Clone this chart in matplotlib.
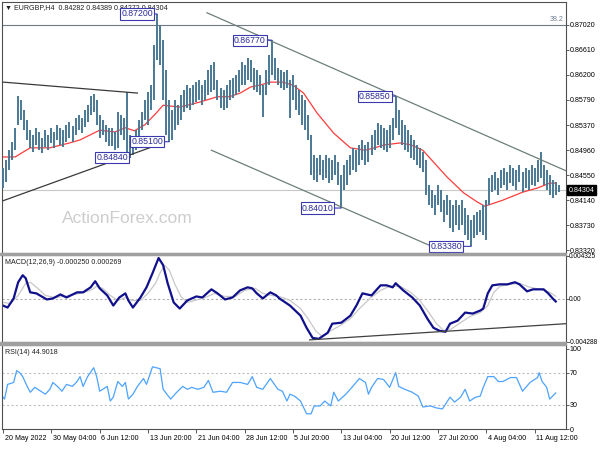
import numpy as np
import matplotlib.pyplot as plt
from matplotlib import transforms
from matplotlib.patches import Rectangle

plt.rcParams['font.family'] = ['Liberation Sans', 'DejaVu Sans']

# EURGBP H4 bars, sampled every second bar (bar number = 2 * i)
highs = [0.8467, 0.8480, 0.8496, 0.8510, 0.8533, 0.8585, 0.8579, 0.8562, 0.8546, 0.8529,
         0.8521, 0.8533, 0.8526, 0.8516, 0.8529, 0.8521, 0.8533, 0.8526, 0.8538, 0.8533,
         0.8529, 0.8538, 0.8542, 0.8536, 0.8549, 0.8554, 0.8549, 0.8562, 0.8570, 0.8585,
         0.8589, 0.8579, 0.8554, 0.8546, 0.8538, 0.8533, 0.8533, 0.8526, 0.8559, 0.8554,
         0.8549, 0.8592, 0.8521, 0.8513, 0.8529, 0.8546, 0.8559, 0.8579, 0.8592, 0.8603,
         0.8669, 0.8720, 0.8702, 0.8677, 0.8628, 0.8579, 0.8562, 0.8579, 0.8570, 0.8587,
         0.8595, 0.8603, 0.8598, 0.8603, 0.8608, 0.8612, 0.8603, 0.8612, 0.8628, 0.8636,
         0.8641, 0.8612, 0.8598, 0.8595, 0.8603, 0.8612, 0.8615, 0.8620, 0.8628, 0.8641,
         0.8636, 0.8648, 0.8644, 0.8631, 0.8628, 0.8620, 0.8603, 0.8628, 0.8653, 0.8677,
         0.8648, 0.8631, 0.8628, 0.8625, 0.8628, 0.8612, 0.8620, 0.8603, 0.8595, 0.8587,
         0.8579, 0.8554, 0.8521, 0.8488, 0.8483, 0.8488, 0.8480, 0.8488, 0.8483, 0.8480,
         0.8488, 0.8477, 0.8455, 0.8472, 0.8480, 0.8488, 0.8500, 0.8496, 0.8505, 0.8513,
         0.8505, 0.8510, 0.8521, 0.8529, 0.8541, 0.8538, 0.8533, 0.8529, 0.8538, 0.8549,
         0.8585, 0.8562, 0.8546, 0.8538, 0.8529, 0.8521, 0.8513, 0.8505, 0.8500, 0.8493,
         0.8480, 0.8439, 0.8431, 0.8422, 0.8439, 0.8431, 0.8414, 0.8422, 0.8414, 0.8406,
         0.8414, 0.8406, 0.8414, 0.8401, 0.8390, 0.8381, 0.8390, 0.8395, 0.8398, 0.8406,
         0.8414, 0.8450, 0.8455, 0.8460, 0.8450, 0.8464, 0.8467, 0.8460, 0.8472, 0.8467,
         0.8464, 0.8472, 0.8460, 0.8467, 0.8464, 0.8472, 0.8467, 0.8480, 0.8493, 0.8472,
         0.8464, 0.8455, 0.8447, 0.8444, 0.8439]
lows = [0.8434, 0.8444, 0.8464, 0.8480, 0.8496, 0.8538, 0.8546, 0.8529, 0.8513, 0.8500,
        0.8493, 0.8505, 0.8496, 0.8492, 0.8501, 0.8496, 0.8508, 0.8500, 0.8513, 0.8505,
        0.8501, 0.8510, 0.8516, 0.8510, 0.8521, 0.8529, 0.8524, 0.8534, 0.8542, 0.8554,
        0.8559, 0.8538, 0.8516, 0.8521, 0.8510, 0.8503, 0.8503, 0.8496, 0.8500, 0.8521,
        0.8513, 0.8487, 0.8484, 0.8488, 0.8496, 0.8510, 0.8529, 0.8546, 0.8538, 0.8562,
        0.8579, 0.8644, 0.8636, 0.8579, 0.8521, 0.8510, 0.8513, 0.8529, 0.8538, 0.8546,
        0.8559, 0.8565, 0.8562, 0.8570, 0.8575, 0.8579, 0.8570, 0.8579, 0.8587, 0.8592,
        0.8595, 0.8579, 0.8565, 0.8562, 0.8565, 0.8579, 0.8582, 0.8587, 0.8592, 0.8603,
        0.8603, 0.8612, 0.8608, 0.8595, 0.8592, 0.8587, 0.8551, 0.8587, 0.8603, 0.8620,
        0.8612, 0.8603, 0.8598, 0.8595, 0.8598, 0.8549, 0.8579, 0.8562, 0.8554, 0.8538,
        0.8529, 0.8513, 0.8455, 0.8447, 0.8444, 0.8455, 0.8447, 0.8450, 0.8442, 0.8447,
        0.8455, 0.8439, 0.8401, 0.8431, 0.8439, 0.8455, 0.8464, 0.8460, 0.8472, 0.8480,
        0.8472, 0.8477, 0.8488, 0.8496, 0.8505, 0.8500, 0.8496, 0.8493, 0.8500, 0.8513,
        0.8533, 0.8521, 0.8505, 0.8496, 0.8493, 0.8483, 0.8480, 0.8472, 0.8467, 0.8460,
        0.8422, 0.8406, 0.8401, 0.8390, 0.8406, 0.8395, 0.8378, 0.8390, 0.8368, 0.8362,
        0.8373, 0.8365, 0.8373, 0.8357, 0.8348, 0.8338, 0.8352, 0.8357, 0.8362, 0.8357,
        0.8348, 0.8406, 0.8427, 0.8431, 0.8422, 0.8434, 0.8439, 0.8431, 0.8442, 0.8437,
        0.8431, 0.8444, 0.8427, 0.8434, 0.8431, 0.8439, 0.8437, 0.8444, 0.8450, 0.8439,
        0.8431, 0.8422, 0.8418, 0.8422, 0.8427]
bar_no = np.arange(len(highs)) * 2
last_price = 0.84304

ma_bar = [0, 8, 18, 31, 44, 51, 64, 74, 81, 87, 94, 101, 106, 117, 130, 142, 150, 157, 164, 170,
          177, 185, 192, 199, 208, 219, 230, 240, 253, 263, 270, 278, 294, 305, 314, 319, 331,
          344, 354, 362, 366]
ma_val = [0.8485, 0.8485, 0.8500, 0.8500, 0.8508, 0.8513, 0.8529, 0.8526, 0.8533, 0.8528,
          0.8538, 0.8556, 0.8570, 0.8567, 0.8575, 0.8584, 0.8584, 0.8590, 0.8600, 0.8603,
          0.8608, 0.8608, 0.8603, 0.8590, 0.8557, 0.8524, 0.8500, 0.8496, 0.8505, 0.8508,
          0.8505, 0.8496, 0.8452, 0.8426, 0.8411, 0.8404, 0.8414, 0.8427, 0.8434, 0.8442,
          0.8442]

# swing labels
swing_bar = [102, 178, 84, 110, 260, 224, 310]
swing_price = [0.87200, 0.86770, 0.84840, 0.85100, 0.85850, 0.84010, 0.83380]

# drawn trendlines (bar, price) end points
tl_bars = [(0, 89), (0, 97), (135, 373), (138, 283)]
tl_prices = [(0.8608, 0.8590), (0.8413, 0.8500), (0.8722, 0.8462), (0.8496, 0.8339)]
fibo_382 = 0.8702

price_ticks = [0.87020, 0.86610, 0.86200, 0.85790, 0.85370, 0.84960, 0.84550, 0.84140,
               0.83730, 0.83320]

macd_bar = [0, 3, 7, 10, 13, 15, 18, 22, 29, 33, 38, 42, 49, 53, 58, 61, 64, 69, 73, 77, 81,
            83, 86, 91, 95, 99, 103, 106, 109, 113, 117, 122, 128, 132, 138, 142, 147, 152,
            157, 162, 165, 168, 172, 177, 181, 183, 190, 197, 201, 205, 209, 215, 218, 224,
            230, 234, 238, 244, 250, 254, 258, 260, 265, 271, 276, 281, 285, 289, 293, 296,
            301, 306, 311, 316, 318, 321, 324, 329, 334, 339, 342, 347, 351, 358, 361, 364, 366]
macd_val = [-0.00066, -0.00086, 0.00005, 0.00167, 0.00237, 0.00207, 0.00066, 0.00056,
            -0.00005, 0.00005, 0.00045, 0.00015, 0.00066, 0.00066, 0.00116, 0.00177, 0.00106,
            0.00035, -0.00066, 0.00015, 0.00056, -0.00015, -0.00086, 0.00015, 0.00116,
            0.00258, 0.00409, 0.00338, 0.00157, -0.00035, -0.00096, -0.00015, 0.00025,
            0.00015, 0.00096, 0.00056, -0.00005, 0.00015, 0.00086, 0.00116, 0.00106, 0.00056,
            0.00005, 0.00066, 0.00035, 0.00005, -0.00066, -0.00167, -0.00288, -0.00389,
            -0.00399, -0.00338, -0.00247, -0.00237, -0.00167, -0.00066, 0.00056, 0.00035,
            0.00136, 0.00136, 0.00116, 0.00157, 0.00086, 0.00015, -0.00066, -0.00197,
            -0.00288, -0.00318, -0.00328, -0.00247, -0.00217, -0.00136, -0.00146, -0.00116,
            -0.00096, 0.00056, 0.00136, 0.00146, 0.00146, 0.00167, 0.00146, 0.00076, 0.00096,
            0.00096, 0.00056, 0.00005, -0.00025]
signal_bar = [0, 5, 10, 15, 18, 23, 28, 34, 41, 51, 58, 62, 66, 71, 76, 81, 85, 91, 96, 101,
              104, 107, 110, 114, 118, 122, 127, 134, 140, 147, 154, 160, 167, 172, 178, 185,
              190, 197, 202, 207, 211, 217, 223, 230, 236, 243, 250, 256, 263, 270, 276, 282,
              287, 292, 297, 303, 309, 316, 321, 325, 329, 336, 342, 349, 356, 362, 366]
signal_val = [-0.00035, -0.00045, 0.00035, 0.00157, 0.00167, 0.00106, 0.00035, 0.00015,
              0.00025, 0.00056, 0.00086, 0.00126, 0.00106, 0.00035, -0.00015, 0.00015,
              -0.00015, -0.00015, 0.00056, 0.00157, 0.00260, 0.00335, 0.00290, 0.00140,
              0.00020, -0.00035, -0.00015, 0.00015, 0.00056, 0.00025, 0.00025, 0.00086,
              0.00106, 0.00056, 0.00035, 0.00015, -0.00015, -0.00096, -0.00197, -0.00318,
              -0.00369, -0.00318, -0.00268, -0.00197, -0.00096, 0.00005, 0.00086, 0.00126,
              0.00126, 0.00066, -0.00015, -0.00136, -0.00247, -0.00318, -0.00298, -0.00237,
              -0.00177, -0.00136, -0.00066, 0.00066, 0.00126, 0.00146, 0.00157, 0.00116,
              0.00096, 0.00066, 0.00027]
macd_tl_bar = (203, 373)
macd_tl_val = (-0.00409, -0.00247)

rsi_bar = [0, 1, 3, 7, 9, 11, 13, 16, 18, 21, 25, 28, 31, 33, 36, 39, 42, 46, 49, 51, 53, 56,
           60, 62, 64, 69, 71, 73, 76, 79, 81, 83, 86, 89, 93, 95, 99, 104, 106, 111, 115, 119,
           122, 125, 129, 133, 136, 139, 144, 148, 152, 157, 162, 165, 168, 172, 177, 182, 185,
           188, 190, 193, 197, 201, 204, 206, 210, 213, 217, 219, 222, 227, 231, 236, 240, 242,
           244, 248, 252, 256, 260, 262, 266, 271, 275, 278, 283, 287, 291, 296, 299, 303, 306,
           309, 313, 316, 318, 321, 325, 328, 331, 336, 340, 344, 349, 354, 355, 357, 360, 362,
           366]
rsi_val = [39.6, 37.2, 55.5, 57.9, 72.6, 70.1, 65.2, 53.0, 45.7, 51.8, 47.0, 43.3, 49.4, 57.9,
           53.0, 47.0, 55.5, 53.0, 59.1, 65.2, 53.0, 65.2, 76.2, 65.2, 47.0, 53.0, 34.8, 39.6,
           59.1, 53.0, 57.9, 37.2, 43.3, 53.0, 62.8, 55.5, 77.4, 75.0, 49.4, 37.2, 45.7, 53.0,
           49.4, 51.8, 49.4, 51.8, 60.4, 45.7, 47.0, 45.7, 57.9, 57.9, 55.5, 65.2, 51.8, 49.4,
           62.8, 49.4, 47.0, 34.8, 43.3, 40.9, 34.8, 18.9, 18.9, 28.7, 28.7, 34.8, 28.7, 45.7,
           34.8, 43.3, 51.8, 62.8, 57.9, 43.3, 51.8, 62.8, 61.6, 51.8, 70.1, 53.0, 49.4, 45.7,
           40.9, 27.4, 28.7, 26.2, 25.0, 39.6, 33.5, 39.6, 49.4, 34.8, 39.6, 40.9, 51.8, 65.2,
           65.2, 59.1, 59.1, 64.0, 64.0, 47.0, 57.9, 64.0, 70.1, 59.1, 51.8, 37.2, 44.9]

time_ticks = [0, 32, 64, 96, 128, 160, 192, 224, 256, 288, 320, 352]
time_labels = ['20 May 2022', '30 May 04:00', '6 Jun 12:00', '13 Jun 20:00', '21 Jun 04:00',
               '28 Jun 12:00', '5 Jul 20:00', '13 Jul 04:00', '20 Jul 12:00', '27 Jul 20:00',
               '4 Aug 04:00', '11 Aug 12:00']

W, H = 600, 450
fig = plt.figure(figsize=(6, 4.5), dpi=100)
fig.patch.set_facecolor('white')


def panel(top, bottom, left=2, right=566):
    return fig.add_axes([left / W, 1 - bottom / H, (right - left) / W, (bottom - top) / H])


ax = panel(2, 253)
ax_m = panel(255, 342)
ax_r = panel(345, 429)
for y0, y1 in [(253, 255), (342, 345)]:
    fig.patches.append(Rectangle((0, 1 - y1 / H), 566 / W, (y1 - y0) / H,
                                 transform=fig.transFigure, color='#a0a0a0', zorder=0))

xlim = (-0.7, 372.8)
fs = 5.1
for a in (ax, ax_m, ax_r):
    a.set_xlim(*xlim)
    a.yaxis.tick_right()
    a.tick_params(axis='y', length=1.8, width=0.6, colors='#404040', labelsize=fs, pad=0.8,
                  labelcolor='black')
    a.tick_params(axis='x', bottom=False, labelbottom=False)
    for s in a.spines.values():
        s.set_color('#505050')
        s.set_linewidth(0.8)

# ---- price panel
bar_col = '#4a7893'
ax.set_ylim(0.83271, 0.87397)
ax.axhline(last_price, color='#c8c8c8', lw=0.8, zorder=1)
ax.axhline(fibo_382, color='#707a85', lw=0.8, zorder=1)
ax.text(371.5, fibo_382 + 0.0003, '38.2', fontsize=fs, color='#708090', ha='right',
        va='bottom')
ax.plot(ma_bar, ma_val, color='#ff3c3c', lw=0.9, zorder=2)
ax.vlines(bar_no, lows, highs, color=bar_col, lw=1.4, zorder=3)
tl_cols = ['#3a3a3a', '#3a3a3a', '#6c7f78', '#6c7f78']
for (b0, b1), (p0, p1), c in zip(tl_bars, tl_prices, tl_cols):
    ax.plot([b0, b1], [p0, p1], color=c, lw=0.9, zorder=4)

ax.set_yticks(price_ticks)
ax.set_yticklabels(['%.5f' % v for v in price_ticks])
trans = transforms.blended_transform_factory(ax.transAxes, ax.transData)
ax.text(1.005, last_price, '%.5f' % last_price, transform=trans, fontsize=fs, color='white',
        ha='left', va='center', clip_on=False,
        bbox=dict(boxstyle='square,pad=0.2', fc='black', ec='black'))

offs = [-4, -6, -2, -6, -5, -8, -9]
for b, p, o in zip(swing_bar, swing_price, offs):
    ax.annotate('%.5f' % p, xy=(b, p), xytext=(o, 0), textcoords='offset pixels',
                ha='right', va='center', fontsize=6.3, color='#2a2a9a', zorder=6,
                bbox=dict(boxstyle='square,pad=0.12', fc='white', ec='#3a3ab0', lw=0.8),
                arrowprops=dict(arrowstyle='-', color='#3a3ab0', lw=0.8,
                                shrinkA=0, shrinkB=0))

ax.text(0.223, 0.139, 'ActionForex.com', transform=ax.transAxes, fontsize=12.5,
        color='#cdcdcd', ha='center', va='center', zorder=0)
ax.text(0.006, 0.978, '\u25bc EURGBP,H4  0.84282 0.84389 0.84272 0.84304',
        transform=ax.transAxes, fontsize=fs, ha='left', va='center', color='#202020')

# ---- MACD panel
ax_m.set_ylim(-0.0043, 0.00439)
ax_m.axhline(0, color='#b0b0b0', lw=0.8, ls=(0, (2, 2)))
ax_m.plot(signal_bar, signal_val, color='#c8c8c8', lw=0.9)
ax_m.plot(macd_bar, macd_val, color='#10108c', lw=1.6)
ax_m.plot(macd_tl_bar, macd_tl_val, color='#404040', lw=0.9)
ax_m.set_yticks([0.004325, 0, -0.004288])
ax_m.set_yticklabels(['0.004325', '0.00', '-0.004288'])
ax_m.tick_params(axis='y', labelsize=4.7, pad=0.5)
ax_m.text(0.006, 0.91, 'MACD(12,26,9) -0.000250 0.000269', transform=ax_m.transAxes,
          fontsize=fs, ha='left', va='center', color='#202020')

# ---- RSI panel
ax_r.set_ylim(0, 104.5)
for lvl in (70, 30):
    ax_r.axhline(lvl, color='#c0c0c0', lw=0.8, ls=(0, (2, 2)))
ax_r.plot(rsi_bar, rsi_val, color='#4da3ff', lw=0.9)
ax_r.set_yticks([0, 30, 70, 100])
ax_r.text(0.006, 0.91, 'RSI(14) 44.9018', transform=ax_r.transAxes,
          fontsize=fs, ha='left', va='center', color='#202020')

ax_r.tick_params(axis='x', bottom=True, labelbottom=True, length=3, width=0.6,
                 colors='#404040', labelsize=fs, pad=1.5, labelcolor='black')
ax_r.set_xticks(time_ticks)
ax_r.set_xticklabels(time_labels)
shift = transforms.ScaledTranslation(1.5 / 100, 0, fig.dpi_scale_trans)
for lab in ax_r.get_xticklabels():
    lab.set_ha('left')
    lab.set_transform(lab.get_transform() + shift)

fig.savefig('out.png', dpi=100)
